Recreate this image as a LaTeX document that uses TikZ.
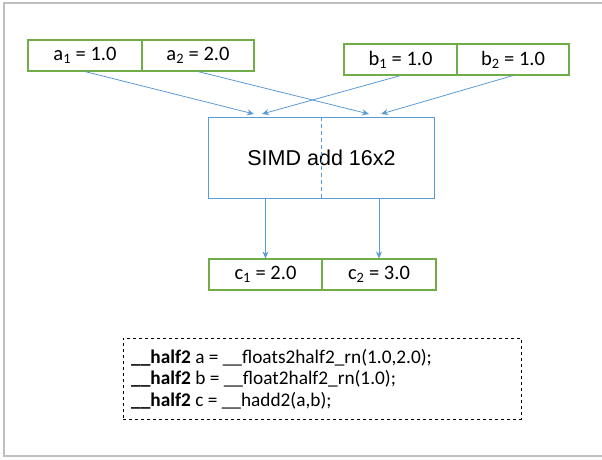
\documentclass[tikz,border=0pt]{standalone}
\usepackage{fontspec}
\setmainfont{Carlito}
\newfontfamily\arialfont{Liberation Sans}
\usetikzlibrary{arrows.meta}
\definecolor{boxgreen}{RGB}{112,173,71}
\definecolor{lineblue}{RGB}{91,155,213}
\definecolor{framegray}{RGB}{191,191,191}
\tikzset{
  valbox/.style={draw=boxgreen, line width=1.1pt, inner sep=0pt, minimum height=31pt, font=\fontsize{20.5}{23}\selectfont},
  simdbox/.style={draw=lineblue, line width=1pt, inner sep=0pt, minimum width=226pt, minimum height=81pt, font=\arialfont\fontsize{21.5}{24}\selectfont},
  flow/.style={draw=lineblue, line width=0.8pt, -{Stealth[length=7pt,width=6pt]}},
  codebox/.style={draw=black, dashed, line width=0.8pt},
}
\begin{document}
\begin{tikzpicture}[x=1pt,y=-1pt]
\useasboundingbox (0,0) rectangle (602,460);
\draw[framegray, line width=1.4pt] (610,3) -- (4,3) -- (4,456) -- (610,456);
% input boxes
\node[valbox, minimum width=114pt] (a1) at (85,55.5) {a\textsubscript{1} = 1.0};
\node[valbox, minimum width=112pt] (a2) at (198,55.5) {a\textsubscript{2} = 2.0};
\node[valbox, minimum width=113pt] (b1) at (400.5,59.5) {b\textsubscript{1} = 1.0};
\node[valbox, minimum width=112pt] (b2) at (513,59.5) {b\textsubscript{2} = 1.0};
% SIMD unit
\node[simdbox] (simd) at (321.5,157.5) {SIMD add 16x2};
\draw[lineblue, line width=0.8pt, dash pattern=on 4pt off 3pt] (simd.north) -- (simd.south);
% outputs
\node[valbox, minimum width=113pt, minimum height=31pt] (c1) at (265.5,274.5) {c\textsubscript{1} = 2.0};
\node[valbox, minimum width=114pt, minimum height=31pt] (c2) at (379,274.5) {c\textsubscript{2} = 3.0};
% arrow targets
\coordinate (ta1) at (254,114);
\coordinate (tb1) at (262,114);
\coordinate (ta2) at (369,114);
\coordinate (tb2) at (381,114);
\draw[flow] (a1.south) -- (ta1);
\draw[flow] (b1.south) -- (tb1);
\draw[flow] (a2.south) -- (ta2);
\draw[flow] (b2.south) -- (tb2);
\draw[flow] (simd.south -| c1.north) -- (c1.north);
\draw[flow] (simd.south -| c2.north) -- (c2.north);
% code
\node[codebox, minimum width=398pt, minimum height=81pt] (codeframe) at (322,378.5) {};
\node[anchor=west, align=left, inner sep=0pt, font=\fontsize{19.3}{21.5}\selectfont] (code) at (131,379)
 {\textbf{\_\_half2} a = \_\_floats2half2\_rn(1.0,2.0);\\
  \textbf{\_\_half2} b = \_\_float2half2\_rn(1.0);\\
  \textbf{\_\_half2} c = \_\_hadd2(a,b);};
\end{tikzpicture}
\end{document}
